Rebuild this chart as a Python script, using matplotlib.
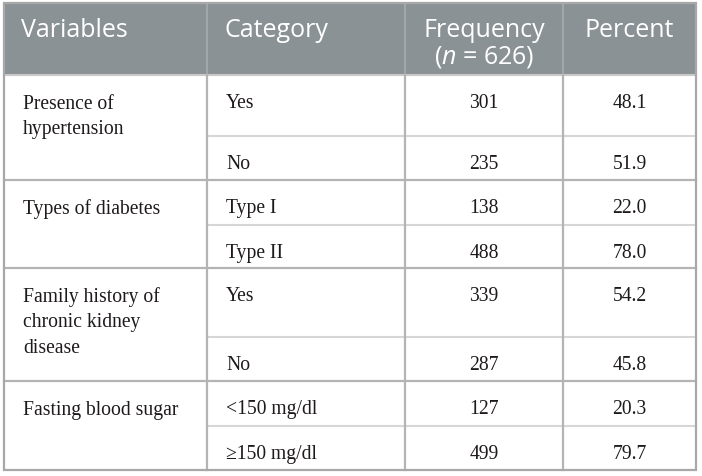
import matplotlib
matplotlib.use("Agg")
import matplotlib.pyplot as plt
from matplotlib.patches import Rectangle

# ---- data ----
headers = ["Variables", "Category", "Frequency\n($n$ = 626)", "Percent"]
variables = ["Presence of\nhypertension", "Types of diabetes",
             "Family history of\nchronic kidney\ndisease", "Fasting blood sugar"]
categories = [["Yes", "No"], ["Type I", "Type II"], ["Yes", "No"],
              ["<150 mg/dl", "\u2265150 mg/dl"]]
frequency = [[301, 235], [138, 488], [339, 287], [127, 499]]
percent = [["48.1", "51.9"], ["22.0", "78.0"], ["54.2", "45.8"], ["20.3", "79.7"]]

# ---- layout (pixels) ----
W, H = 702, 477
col_edges = [4, 207, 405, 563, 696]
row_edges = [4, 76, 137, 181, 226, 269, 338, 382, 427, 471]
header_fill = "#8b9295"
line_full = "#b4b4b4"
line_sub = "#d6d6d6"
border = "#a8a8a8"
text_col = "#1e1a1b"

plt.rcParams["mathtext.fontset"] = "custom"
plt.rcParams["mathtext.rm"] = "Open Sans"
plt.rcParams["mathtext.it"] = "Open Sans:italic"

fig = plt.figure(figsize=(W / 100, H / 100), dpi=100)
ax = fig.add_axes([0, 0, 1, 1])
ax.set_xlim(0, W)
ax.set_ylim(H, 0)
ax.axis("off")

# header background
ax.add_patch(Rectangle((col_edges[0], row_edges[0]), col_edges[-1] - col_edges[0],
                       row_edges[1] - row_edges[0], facecolor=header_fill,
                       edgecolor="none", zorder=1))

hdr_font = dict(family="Open Sans", size=18, color="white")
body_font = dict(family="Liberation Serif", size=14.1, color=text_col)
line_gap = 25.5

# header text
for i, h in enumerate(headers):
    lines = h.split("\n")
    for k, ln in enumerate(lines):
        y = 37 + k * 26
        if i < 2:
            ax.text(col_edges[i] + 17, y, ln, ha="left", va="baseline", zorder=3, **hdr_font)
        else:
            ax.text((col_edges[i] + col_edges[i + 1]) / 2, y, ln, ha="center",
                    va="baseline", zorder=3, **hdr_font)

# body
r = 1
for g, var in enumerate(variables):
    top = row_edges[r]
    for k, ln in enumerate(var.split("\n")):
        ax.text(col_edges[0] + 19, top + 33 + k * line_gap, ln, ha="left",
                va="baseline", zorder=3, **body_font)
    for j in range(len(categories[g])):
        t = row_edges[r + j]
        yb = t + 32
        ax.text(col_edges[1] + 19, yb, categories[g][j], ha="left", va="baseline",
                zorder=3, **body_font)
        ax.text((col_edges[2] + col_edges[3]) / 2, yb, str(frequency[g][j]),
                ha="center", va="baseline", zorder=3, **body_font)
        ax.text((col_edges[3] + col_edges[4]) / 2, yb, percent[g][j],
                ha="center", va="baseline", zorder=3, **body_font)
        if j > 0:
            ax.plot([col_edges[1], col_edges[4]], [t, t], color=line_sub, lw=1.5, zorder=2)
    r += len(categories[g])
    if g < len(variables) - 1:
        yl = row_edges[r]
        ax.plot([col_edges[0], col_edges[4]], [yl, yl], color=line_full, lw=1.6, zorder=2)

# header bottom line
ax.plot([col_edges[0], col_edges[4]], [row_edges[1], row_edges[1]], color="#c9c9c9", lw=1.5, zorder=2)

# vertical lines
for x in col_edges[1:-1]:
    ax.plot([x, x], [row_edges[0], row_edges[1]], color="#a5abad", lw=1.3, zorder=2)
    ax.plot([x, x], [row_edges[1], row_edges[-1]], color=line_full, lw=1.6, zorder=2)

# outer border
ax.add_patch(Rectangle((col_edges[0], row_edges[0]), col_edges[-1] - col_edges[0],
                       row_edges[-1] - row_edges[0], facecolor="none",
                       edgecolor=border, lw=1.6, zorder=4))

fig.savefig("out.png", dpi=100, facecolor="white")
